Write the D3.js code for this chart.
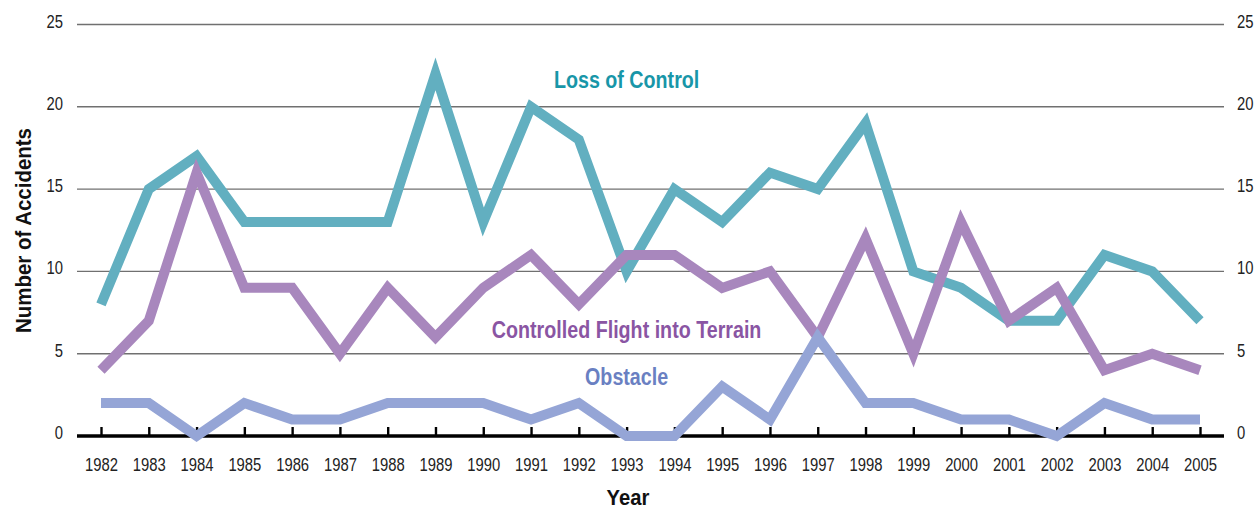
<!DOCTYPE html>
<html><head><meta charset="utf-8">
<script src="https://cdn.jsdelivr.net/npm/d3@7"></script>
<style>
html,body{margin:0;padding:0;background:#fff;}
svg text{font-family:"Liberation Sans",Arial,sans-serif;}
</style></head><body>
<svg id="chart" width="1256" height="508"></svg>
<script>
const years = [1982,1983,1984,1985,1986,1987,1988,1989,1990,1991,1992,1993,1994,1995,1996,1997,1998,1999,2000,2001,2002,2003,2004,2005];
const lossOfControl = [8,15,17,13,13,13,13,22,13,20,18,10,15,13,16,15,19,10,9,7,7,11,10,7];
const cfit = [4,7,16,9,9,5,9,6,9,11,8,11,11,9,10,6,12,5,13,7,9,4,5,4];
const obstacle = [2,2,0,2,1,1,2,2,2,1,2,0,0,3,1,6,2,2,1,1,0,2,1,1];
const yTicks = [0,5,10,15,20,25];
const seriesNames = ["Loss of Control","Controlled Flight into Terrain","Obstacle"];
const seriesLabelPos = [[1993,21.12],[1993,5.94],[1993,3.1]];

const svg = d3.select("#chart");
const x = d3.scaleLinear().domain([1982,2005]).range([101,1200]);
const y = d3.scaleLinear().domain([0,25]).range([436,24.5]);
const gridL = 77, gridR = 1224;
const SX = 0.78; // condensed look

function ctext(g, px, py, sx){
  return g.append("text").attr("transform",`translate(${px},${py}) scale(${sx},1)`);
}

// gridlines
svg.append("g").selectAll("line").data(yTicks.filter(d=>d>0)).join("line")
  .attr("x1",gridL).attr("x2",gridR).attr("y1",d=>y(d)).attr("y2",d=>y(d))
  .attr("stroke","#707070").attr("stroke-width",1.4);

// left & right tick labels
const gl = svg.append("g");
yTicks.forEach(t=>{
  ctext(gl,63,y(t)+3,SX).attr("text-anchor","end").attr("font-size",19).attr("fill","#222").text(t);
  ctext(gl,1237,y(t)+3,SX).attr("text-anchor","start").attr("font-size",19).attr("fill","#222").text(t);
});

// x axis
const xAxis = d3.axisBottom(x).tickValues(years).tickFormat(d3.format("d")).tickSizeInner(-9).tickSizeOuter(0).tickPadding(22);
const gx = svg.append("g").attr("transform",`translate(0,${y(0)})`).call(xAxis);
gx.select(".domain").remove();
gx.selectAll(".tick line").attr("stroke","#000").attr("stroke-width",2.4);
gx.selectAll(".tick text").attr("font-size",19).attr("fill","#222").attr("transform",`scale(${SX},1)`)
  .style("font-family",'"Liberation Sans",Arial,sans-serif');
svg.append("line").attr("x1",gridL).attr("x2",gridR).attr("y1",y(0)).attr("y2",y(0))
  .attr("stroke","#000").attr("stroke-width",3.5);

// lines
const lineColors = ["#62afc0","#a887bd","#95a5d6"];
const labelColors = ["#1896a8","#8a55a3","#6a80c2"];
const allSeries = [lossOfControl,cfit,obstacle];
const line = d3.line().x((d,i)=>x(years[i])).y(d=>y(d));
svg.append("g").selectAll("path").data(allSeries).join("path")
  .attr("d",d=>line(d)).attr("fill","none")
  .attr("stroke",(d,i)=>lineColors[i]).attr("stroke-width",10)
  .attr("stroke-linejoin","miter").attr("stroke-miterlimit",10).attr("stroke-linecap","butt");

// series labels
const gs = svg.append("g");
seriesNames.forEach((n,i)=>{
  ctext(gs, x(seriesLabelPos[i][0]), y(seriesLabelPos[i][1]), 0.82)
    .attr("text-anchor","middle").attr("font-size",24).attr("font-weight","bold")
    .attr("fill",labelColors[i]).text(n);
});

// axis titles
ctext(svg,628,505,0.92).attr("text-anchor","middle")
  .attr("font-size",22).attr("font-weight","bold").attr("fill","#111").text("Year");
svg.append("text").attr("transform","translate(31,230.5) rotate(-90) scale(0.93,1)").attr("text-anchor","middle")
  .attr("font-size",22).attr("font-weight","bold").attr("fill","#111").text("Number of Accidents");
</script>
</body></html>
